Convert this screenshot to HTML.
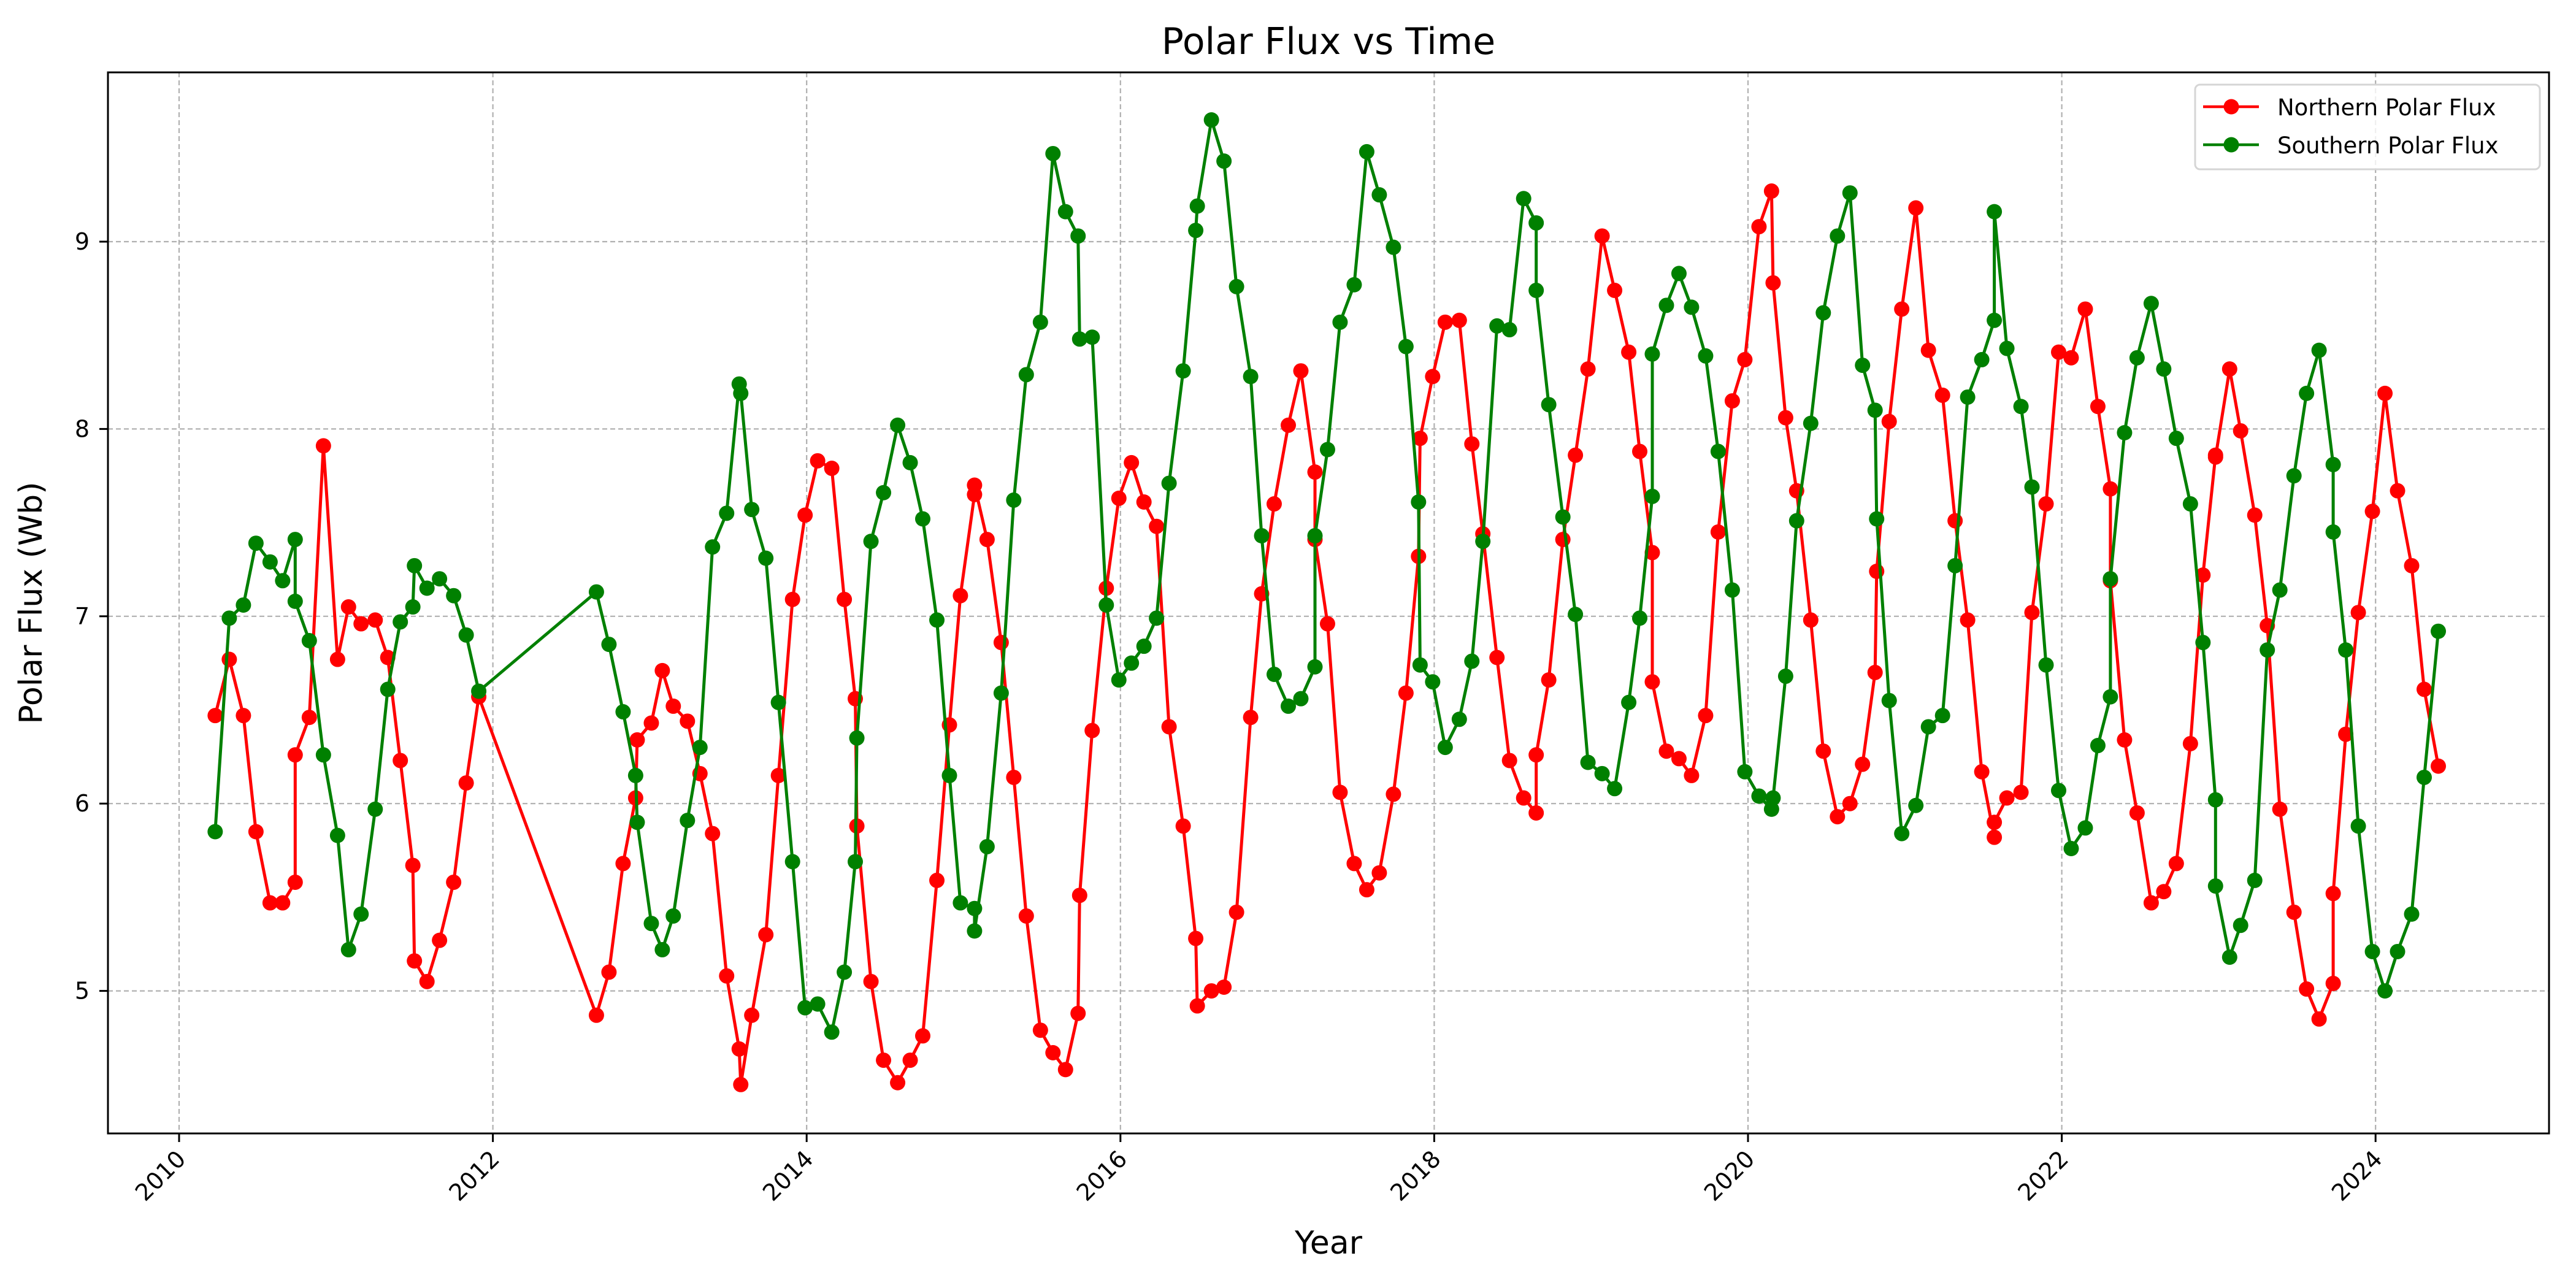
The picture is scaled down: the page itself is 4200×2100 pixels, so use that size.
<!DOCTYPE html>
<html><head><meta charset="utf-8"><style>
html,body{margin:0;padding:0;background:#fff;}
svg{display:block;font-family:"DejaVu Sans","Liberation Sans",sans-serif;}
</style></head><body>
<svg id="chart" width="4200" height="2100" viewBox="0 0 4200 2100" xmlns="http://www.w3.org/2000/svg">
<rect width="4200" height="2100" fill="#fff"/>
<g id="grid"></g>
<g id="series"></g>
<rect x="176" y="118" width="3980" height="1730" fill="none" stroke="#000" stroke-width="3"/>
<g id="axes"></g>
<text x="2166" y="88" font-size="60" text-anchor="middle">Polar Flux vs Time</text>
<text x="2166" y="2044" font-size="52" text-anchor="middle">Year</text>
<text transform="translate(68,983) rotate(-90)" font-size="52" text-anchor="middle">Polar Flux (Wb)</text>
<g>
<rect x="3579" y="138" width="562" height="138" rx="8" fill="#fff" fill-opacity="0.8" stroke="#d5d5d5" stroke-width="3"/>
<g>
<line x1="3592" y1="174" x2="3683" y2="174" stroke="red" stroke-width="4.5"/>
<circle cx="3638" cy="174" r="12.5" fill="red"/>
<text x="3713" y="188" font-size="37">Northern Polar Flux</text></g>
<g>
<line x1="3592" y1="236" x2="3683" y2="236" stroke="green" stroke-width="4.5"/>
<circle cx="3638" cy="236" r="12.5" fill="green"/>
<text x="3713" y="250" font-size="37">Southern Polar Flux</text></g>
</g>
</svg>
<script>
const offsets=[.23,.32,.41,.49,.58,.66,.74,.74,.83,.92,1.01,1.08,1.16,1.25,1.33,1.41,1.49,1.50,1.58,1.66,1.75,1.83,1.91,
2.66,2.74,2.83,2.91,2.92,3.01,3.08,3.15,3.24,3.32,3.40,3.49,3.57,3.58,3.65,3.74,3.82,3.91,3.99,4.07,4.16,4.24,4.31,4.32,4.41,4.49,4.58,4.66,4.74,4.83,4.91,4.98,5.07,5.07,5.15,5.24,5.32,5.40,5.49,5.57,5.65,5.73,5.74,5.82,5.91,5.99,6.07,6.15,6.23,6.31,6.40,6.48,6.49,6.58,6.66,6.74,6.83,6.90,6.98,7.07,7.15,7.24,7.24,7.32,7.40,7.49,7.57,7.65,7.74,7.82,7.90,7.91,7.99,8.07,8.16,8.24,8.31,8.40,8.48,8.57,8.65,8.65,8.73,8.82,8.90,8.98,9.07,9.15,9.24,9.31,9.39,9.39,9.48,9.56,9.64,9.73,9.81,9.90,9.98,10.07,10.15,10.16,10.24,10.31,10.40,10.48,10.57,10.65,10.73,10.81,10.82,10.90,10.98,11.07,11.15,11.24,11.32,11.40,11.49,11.57,11.57,11.65,11.74,11.81,11.90,11.98,12.06,12.15,12.23,12.31,12.31,12.40,12.48,12.57,12.65,12.73,12.82,12.90,12.98,12.98,13.07,13.14,13.23,13.31,13.39,13.48,13.56,13.64,13.73,13.73,13.81,13.89,13.98,14.06,14.14,14.23,14.31,14.40];
const northValues=[6.47,6.77,6.47,5.85,5.47,5.47,5.58,6.26,6.46,7.91,6.77,7.05,6.96,6.98,6.78,6.23,5.67,5.16,5.05,5.27,5.58,6.11,6.57,
4.87,5.10,5.68,6.03,6.34,6.43,6.71,6.52,6.44,6.16,5.84,5.08,4.69,4.50,4.87,5.30,6.15,7.09,7.54,7.83,7.79,7.09,6.56,5.88,5.05,4.63,4.51,4.63,4.76,5.59,6.42,7.11,7.65,7.70,7.41,6.86,6.14,5.40,4.79,4.67,4.58,4.88,5.51,6.39,7.15,7.63,7.82,7.61,7.48,6.41,5.88,5.28,4.92,5.00,5.02,5.42,6.46,7.12,7.60,8.02,8.31,7.77,7.41,6.96,6.06,5.68,5.54,5.63,6.05,6.59,7.32,7.95,8.28,8.57,8.58,7.92,7.44,6.78,6.23,6.03,5.95,6.26,6.66,7.41,7.86,8.32,9.03,8.74,8.41,7.88,7.34,6.65,6.28,6.24,6.15,6.47,7.45,8.15,8.37,9.08,9.27,8.78,8.06,7.67,6.98,6.28,5.93,6.00,6.21,6.70,7.24,8.04,8.64,9.18,8.42,8.18,7.51,6.98,6.17,5.82,5.90,6.03,6.06,7.02,7.60,8.41,8.38,8.64,8.12,7.68,7.19,6.34,5.95,5.47,5.53,5.68,6.32,7.22,7.86,7.85,8.32,7.99,7.54,6.95,5.97,5.42,5.01,4.85,5.04,5.52,6.37,7.02,7.56,8.19,7.67,7.27,6.61,6.20];
const southValues=[5.85,6.99,7.06,7.39,7.29,7.19,7.41,7.08,6.87,6.26,5.83,5.22,5.41,5.97,6.61,6.97,7.05,7.27,7.15,7.20,7.11,6.90,6.60,
7.13,6.85,6.49,6.15,5.90,5.36,5.22,5.40,5.91,6.30,7.37,7.55,8.24,8.19,7.57,7.31,6.54,5.69,4.91,4.93,4.78,5.10,5.69,6.35,7.40,7.66,8.02,7.82,7.52,6.98,6.15,5.47,5.44,5.32,5.77,6.59,7.62,8.29,8.57,9.47,9.16,9.03,8.48,8.49,7.06,6.66,6.75,6.84,6.99,7.71,8.31,9.06,9.19,9.65,9.43,8.76,8.28,7.43,6.69,6.52,6.56,6.73,7.43,7.89,8.57,8.77,9.48,9.25,8.97,8.44,7.61,6.74,6.65,6.30,6.45,6.76,7.40,8.55,8.53,9.23,9.10,8.74,8.13,7.53,7.01,6.22,6.16,6.08,6.54,6.99,7.64,8.40,8.66,8.83,8.65,8.39,7.88,7.14,6.17,6.04,5.97,6.03,6.68,7.51,8.03,8.62,9.03,9.26,8.34,8.10,7.52,6.55,5.84,5.99,6.41,6.47,7.27,8.17,8.37,8.58,9.16,8.43,8.12,7.69,6.74,6.07,5.76,5.87,6.31,6.57,7.20,7.98,8.38,8.67,8.32,7.95,7.60,6.86,6.02,5.56,5.18,5.35,5.59,6.82,7.14,7.75,8.19,8.42,7.81,7.45,6.82,5.88,5.21,5.00,5.21,5.41,6.14,6.92];
const xTickLabels=[2010,2012,2014,2016,2018,2020,2022,2024];
const yTickLabels=[5,6,7,8,9];
const NS='http://www.w3.org/2000/svg';
const baseYear=2010;
function xs(year){return 292+(year-2010)*255.8;}
function ys(v){return 394+(9-v)*305.4;}
function mk(tag,attrs,parent){const e=document.createElementNS(NS,tag);for(const k in attrs)e.setAttribute(k,attrs[k]);parent.appendChild(e);return e;}
const grid=document.getElementById('grid'),axes=document.getElementById('axes'),series=document.getElementById('series');
xTickLabels.forEach(t=>{
  const x=xs(t);
  const g=mk('line',{x1:x,x2:x,y1:118,y2:1848,stroke:'#b0b0b0','stroke-width':2.2,'stroke-dasharray':'8,5'},grid);
  
  
  const tk=mk('line',{x1:x,x2:x,y1:1848,y2:1862,stroke:'#000','stroke-width':3},axes);
  
  
  const tx=mk('text',{'font-size':38,'text-anchor':'end',transform:`translate(${x+13},${1892}) rotate(-45)`},axes);
  tx.textContent=t;
  
  
});
yTickLabels.forEach(t=>{
  const y=ys(t);
  const g=mk('line',{x1:176,x2:4156,y1:y,y2:y,stroke:'#b0b0b0','stroke-width':2.2,'stroke-dasharray':'8,5'},grid);
  
  
  const tk=mk('line',{x1:162,x2:176,y1:y,y2:y,stroke:'#000','stroke-width':3},axes);
  
  
  const tx=mk('text',{x:146,y:y+13,'font-size':38,'text-anchor':'end'},axes);
  tx.textContent=t;
  
  
});
function drawSeries(vals,color,name){
  const n=Math.min(vals.length,offsets.length);
  const g=mk('g',{},series);
  
  
  let d='';
  for(let i=0;i<n;i++){d+=(i?'L':'M')+xs(baseYear+offsets[i]).toFixed(1)+','+ys(vals[i]).toFixed(1);}
  const p=mk('path',{d:d,fill:'none',stroke:color,'stroke-width':5,'stroke-linejoin':'round'},g);
  
  
  for(let i=0;i<n;i++){
    const c=mk('circle',{cx:xs(baseYear+offsets[i]),cy:ys(vals[i]),r:12.5,fill:color},g);
    
    
  }
}
drawSeries(northValues,'red','northern-polar-flux');
drawSeries(southValues,'green','southern-polar-flux');
</script>
</body></html>
